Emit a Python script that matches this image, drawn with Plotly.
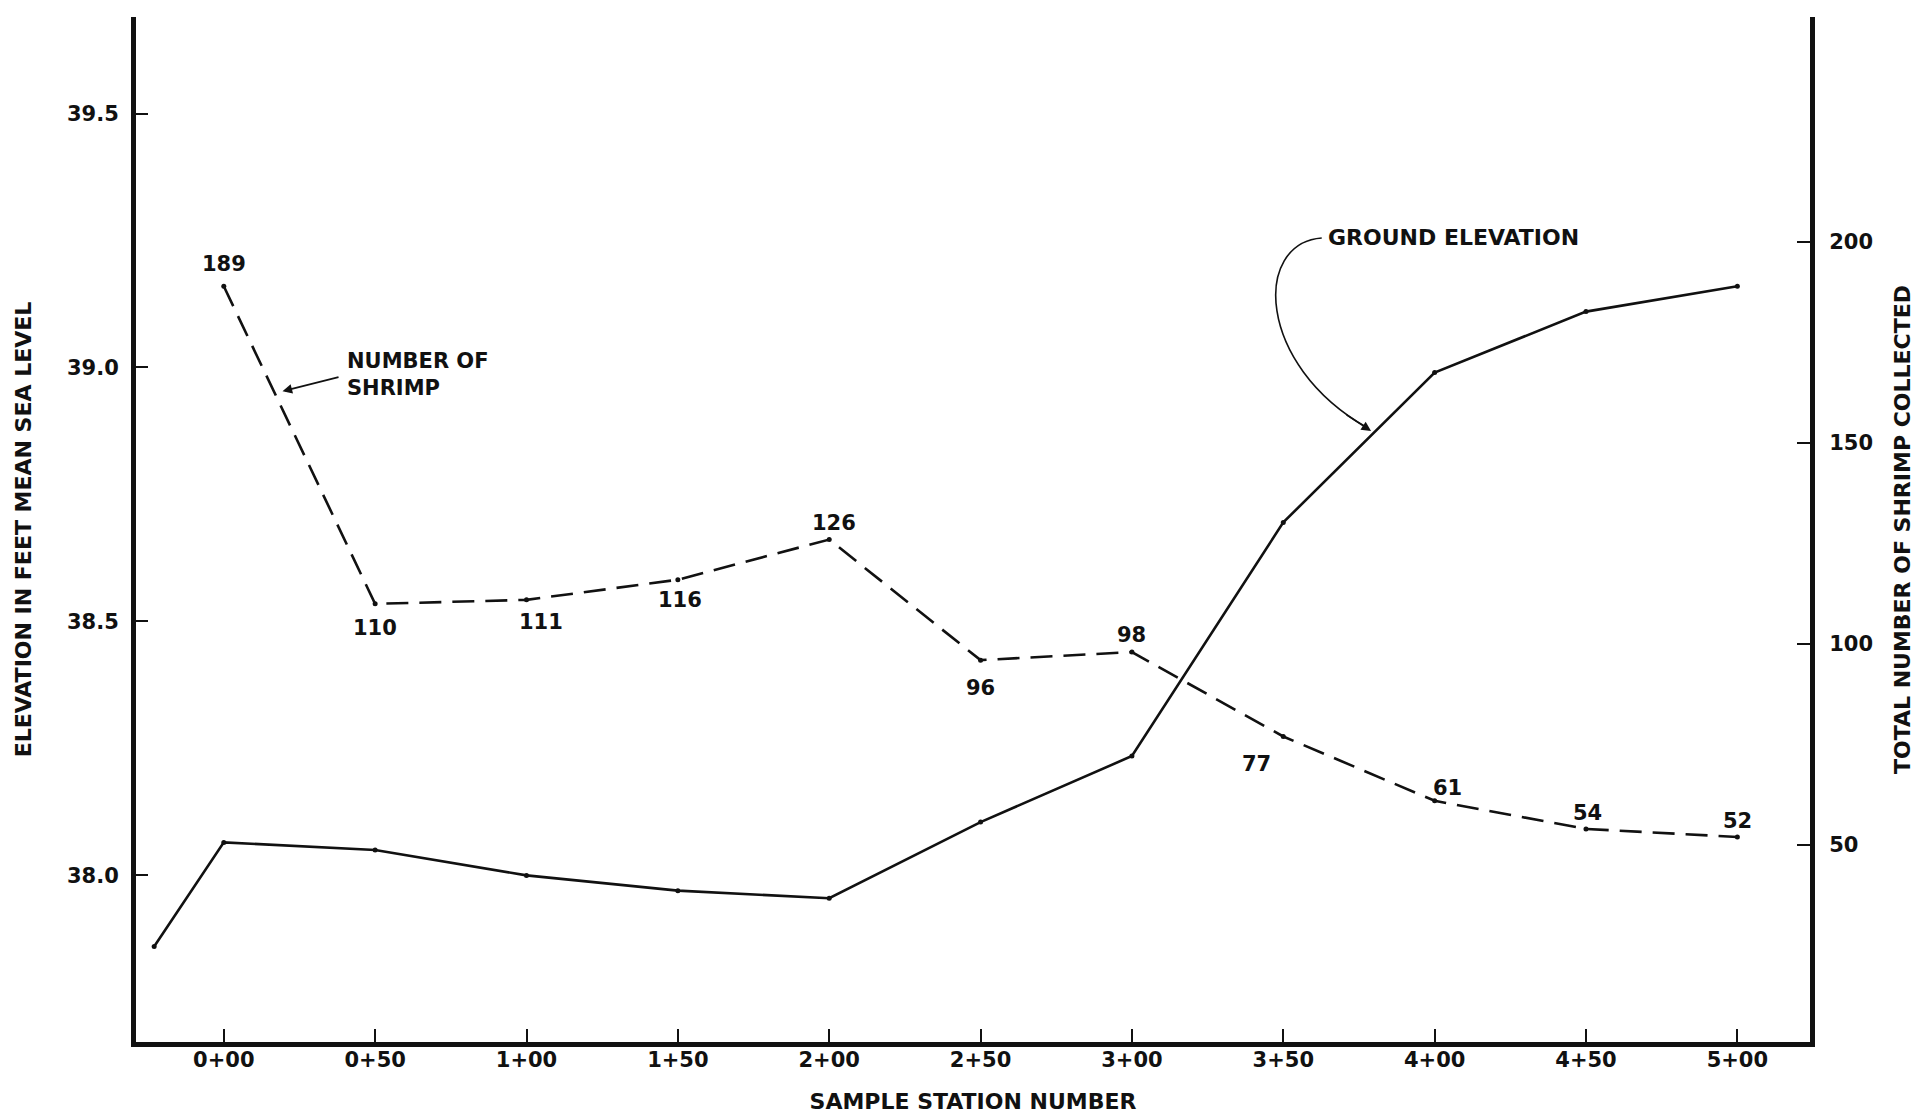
import plotly.graph_objects as go

# ---- data ----
station_ticks = [0, 50, 100, 150, 200, 250, 300, 350, 400, 450, 500]
station_labels = ["0+00", "0+50", "1+00", "1+50", "2+00", "2+50", "3+00", "3+50", "4+00", "4+50", "5+00"]

elev_ticks = [38.0, 38.5, 39.0, 39.5]
elev_labels = ["38.0", "38.5", "39.0", "39.5"]
count_ticks = [50, 100, 150, 200]
count_labels = ["50", "100", "150", "200"]

ground_x = [-23, 0, 50, 100, 150, 200, 250, 300, 350, 400, 450, 500]
ground_elev = [37.86, 38.065, 38.05, 38.0, 37.97, 37.955, 38.105, 38.235, 38.695, 38.99, 39.11, 39.16]

shrimp_x = [0, 50, 100, 150, 200, 250, 300, 350, 400, 450, 500]
shrimp_n = [189, 110, 111, 116, 126, 96, 98, 77, 61, 54, 52]

# label offsets (px) for the printed counts
lab_dx = [0, 0, 14, 2, 5, 0, 0, -27, 13, 2, 0]
lab_dy = [22, -24, -22, -20, 17, -28, 17, -27, 13, 16, 16]

FONT = "DejaVu Sans"
BLACK = "#111111"

fig = go.Figure()

fig.add_trace(go.Scatter(
    x=ground_x, y=ground_elev, mode="lines+markers", name="Ground elevation",
    line=dict(color=BLACK, width=2.6),
    marker=dict(color=BLACK, size=5),
    yaxis="y", showlegend=False, hoverinfo="skip",
))

fig.add_trace(go.Scatter(
    x=shrimp_x, y=shrimp_n, mode="lines+markers", name="Number of shrimp",
    line=dict(color=BLACK, width=2.6, dash="22px,11px"),
    marker=dict(color=BLACK, size=5),
    yaxis="y2", showlegend=False, hoverinfo="skip",
))

annotations = []
for xv, nv, dx, dy in zip(shrimp_x, shrimp_n, lab_dx, lab_dy):
    annotations.append(dict(
        x=xv, y=nv, xref="x", yref="y2", text=str(nv), showarrow=False,
        xshift=dx, yshift=dy, font=dict(family=FONT, size=21, color=BLACK, weight="bold"),
    ))

# "NUMBER OF SHRIMP" callout
annotations.append(dict(
    x=40, y=167, xref="x", yref="y2", xanchor="left", yanchor="middle",
    text="NUMBER OF<br>SHRIMP", align="left", showarrow=False,
    font=dict(family=FONT, size=21, color=BLACK, weight="bold"),
))
annotations.append(dict(
    x=19.4, y=162.9, xref="x", yref="y2", ax=38.4, ay=166.5, axref="x", ayref="y2",
    text="", showarrow=True, arrowhead=2, arrowsize=1.2, arrowwidth=1.6, arrowcolor=BLACK,
))

# "GROUND ELEVATION" callout
annotations.append(dict(
    x=364, y=39.255, xref="x", yref="y", xanchor="left", yanchor="middle",
    text="GROUND ELEVATION", showarrow=False,
    font=dict(family=FONT, size=22, color=BLACK, weight="bold"),
))
annotations.append(dict(
    x=379, y=38.875, xref="x", yref="y", ax=-26, ay=-17,
    text="", showarrow=True, arrowhead=2, arrowsize=1.2, arrowwidth=1.6, arrowcolor=BLACK,
))

shapes = [dict(
    type="path", xref="x", yref="y",
    path="M 362.7,39.255 C 340,39.245 341,39.006 377.6,38.882",
    line=dict(color=BLACK, width=1.6),
)]

tickfont = dict(family=FONT, size=21, color=BLACK, weight="bold")
titlefont = dict(family=FONT, size=22, color=BLACK, weight="bold")

fig.update_layout(
    width=1917, height=1115,
    margin=dict(l=136, r=107, t=17, b=73),
    paper_bgcolor="white", plot_bgcolor="white",
    font=dict(family=FONT, color=BLACK, size=20),
    annotations=annotations, shapes=shapes,
    xaxis=dict(
        range=[-29, 524], tickvals=station_ticks, ticktext=station_labels,
        showgrid=False, zeroline=False, showline=True, linecolor=BLACK, linewidth=5,
        ticks="inside", ticklen=13, tickwidth=2, tickcolor=BLACK,
        tickfont=tickfont, automargin=False, ticklabelstandoff=-5,
        title=dict(text="SAMPLE STATION NUMBER", font=titlefont, standoff=24),
    ),
    yaxis=dict(
        range=[37.672, 39.69], tickvals=elev_ticks, ticktext=elev_labels,
        showgrid=False, zeroline=False, showline=True, linecolor=BLACK, linewidth=5,
        ticks="inside", ticklen=12, tickwidth=2, tickcolor=BLACK,
        tickfont=tickfont, automargin=False, ticklabelstandoff=8,
        title=dict(text="ELEVATION IN FEET MEAN SEA LEVEL", font=titlefont, standoff=31),
    ),
    yaxis2=dict(
        range=[1, 256], overlaying="y", side="right",
        tickvals=count_ticks, ticktext=count_labels,
        showgrid=False, zeroline=False, showline=True, linecolor=BLACK, linewidth=5,
        ticks="inside", ticklen=13, tickwidth=2, tickcolor=BLACK,
        tickfont=tickfont, automargin=False, ticklabelstandoff=10,
        title=dict(text="TOTAL NUMBER OF SHRIMP COLLECTED", font=titlefont, standoff=24),
    ),
)

fig.write_html("out.html", config={"displayModeBar": False},
               post_script="document.body.style.margin='0';")
